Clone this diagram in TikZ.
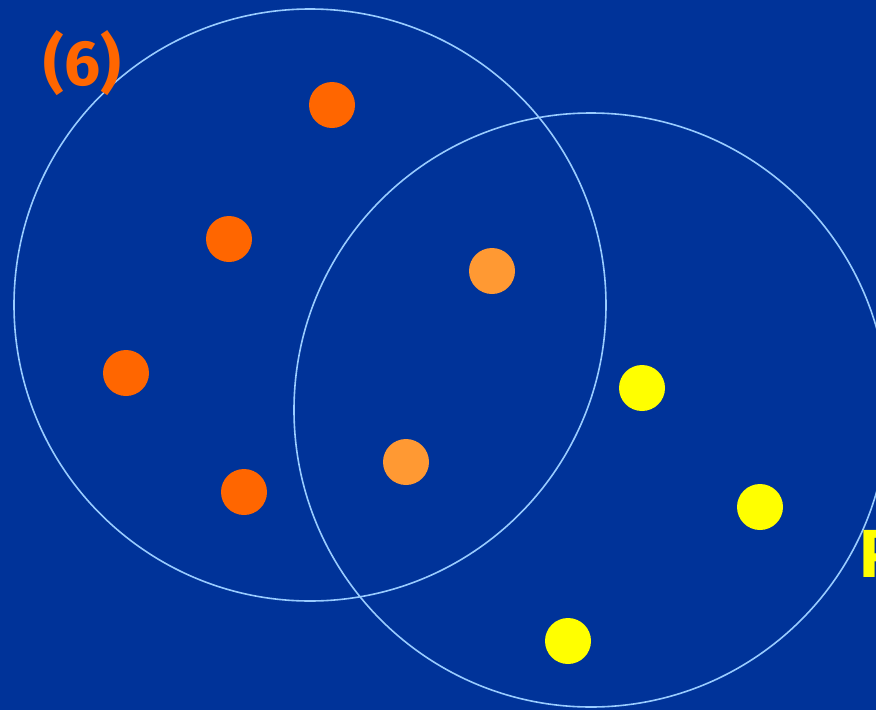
\documentclass[tikz,border=0pt]{standalone}
\usepackage{fontspec}
\setmainfont{Fira Sans}
\definecolor{bg}{HTML}{003399}
\definecolor{ring}{HTML}{99CCFF}
\definecolor{dorange}{HTML}{FF6600}
\definecolor{lorange}{HTML}{FF9933}
\definecolor{dyellow}{HTML}{FFFF00}
\begin{document}
\begin{tikzpicture}[x=1pt,y=-1pt,
  ringstyle/.style={draw=ring,line width=1.6pt},
  dot/.style={circle,minimum size=46pt,inner sep=0pt},
  lbl/.style={inner sep=0pt,font=\bfseries}]
\fill[bg] (0,0) rectangle (876,710);
\useasboundingbox (0,0) rectangle (876,710);
\node[ringstyle,circle,minimum size=592pt,inner sep=0pt] (A) at (310,305) {};
\node[ringstyle,circle,minimum size=594pt,inner sep=0pt] (B) at (591,410) {};
\node[dot,fill=dorange] (o1) at (332,105) {};
\node[dot,fill=dorange] (o2) at (229,239) {};
\node[dot,fill=dorange] (o3) at (126,373) {};
\node[dot,fill=dorange] (o4) at (244,492) {};
\node[dot,fill=lorange] (l1) at (492,271) {};
\node[dot,fill=lorange] (l2) at (406,462) {};
\node[dot,fill=dyellow] (y1) at (642,388) {};
\node[dot,fill=dyellow] (y2) at (760,507) {};
\node[dot,fill=dyellow] (y3) at (568,641) {};
\node[lbl,text=dorange,anchor=base west,font=\bfseries\fontsize{64}{66}\selectfont] (t6) at (43,85) {(6)};
\node[lbl,text=dyellow,anchor=base west,font=\bfseries\fontsize{68}{70}\selectfont] (tp) at (859,577) {P};
\end{tikzpicture}
\end{document}
